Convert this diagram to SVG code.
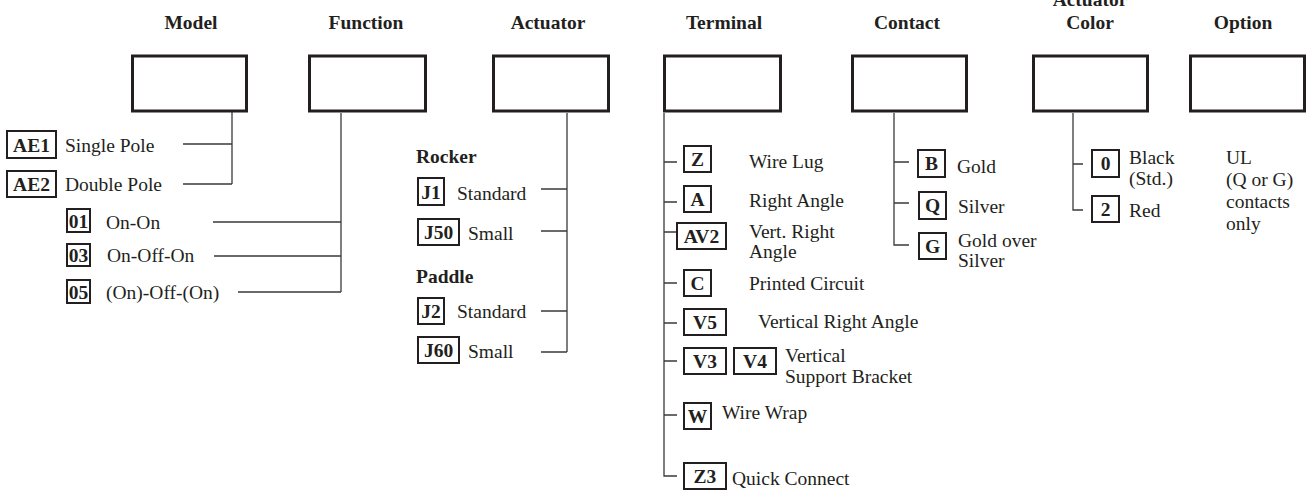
<svg xmlns="http://www.w3.org/2000/svg" width="1307" height="491" viewBox="0 0 1307 491">
<style>
.t{font-family:"Liberation Serif","Times New Roman",serif;font-size:19.5px;fill:#231f20}
.b{font-weight:bold}
.c{text-anchor:middle}
.mb{fill:#fff;stroke:#231f20;stroke-width:3}
.cb{fill:#fff;stroke:#231f20;stroke-width:2}
.ln{stroke:#3a3a3a;stroke-width:1.3;fill:none}
</style>
<rect width="1307" height="491" fill="#fff"/>
<g id="connectors" class="ln">
<path d="M232 112V184M183 144H232M183 184H232"/>
<path d="M341 113V292M213 222H341M214 256H341M238 292H341"/>
<path d="M567 113V352M541 189H567M541 231H567M541 311H567M541 352H567"/>
<path d="M664 113V476H677M664 162H677M664 202H677M664 232H677M664 283H677M664 323H677M664 361H677M664 415H677"/>
<path d="M894 113V245H909M894 162H909M894 203H909"/>
<path d="M1073 113V210H1083M1073 164H1083"/>
</g>
<g id="model">
<text class="t b c" x="191" y="29">Model</text>
<rect class="mb" x="132.5" y="56" width="114" height="55"/>
<rect class="cb" x="7" y="131" width="49" height="27"/>
<text class="t b c" x="31.5" y="152">AE1</text>
<text class="t" x="65" y="152">Single Pole</text>
<rect class="cb" x="7" y="171" width="49" height="26"/>
<text class="t b c" x="31.5" y="191">AE2</text>
<text class="t" x="65" y="191">Double Pole</text>
</g>
<g id="function">
<text class="t b c" x="366" y="29">Function</text>
<rect class="mb" x="309.5" y="56" width="116" height="55"/>
<rect class="cb" x="67" y="209" width="23" height="23"/>
<text class="t b c" x="78.5" y="228">01</text>
<text class="t" x="106" y="229">On-On</text>
<rect class="cb" x="67" y="244" width="23" height="22"/>
<text class="t b c" x="78.5" y="262">03</text>
<text class="t" x="107" y="262">On-Off-On</text>
<rect class="cb" x="67" y="280" width="23" height="23"/>
<text class="t b c" x="78.5" y="299">05</text>
<text class="t" x="106" y="299">(On)-Off-(On)</text>
</g>
<g id="actuator">
<text class="t b c" x="548" y="29">Actuator</text>
<rect class="mb" x="493.5" y="56" width="115" height="55"/>
<text class="t b" x="416" y="163">Rocker</text>
<rect class="cb" x="418" y="178" width="26" height="27"/>
<text class="t b c" x="431" y="199">J1</text>
<text class="t" x="457" y="200">Standard</text>
<rect class="cb" x="418" y="219" width="41" height="26"/>
<text class="t b c" x="438.5" y="239">J50</text>
<text class="t" x="468" y="240">Small</text>
<text class="t b" x="416" y="283">Paddle</text>
<rect class="cb" x="418" y="298" width="26" height="26"/>
<text class="t b c" x="431" y="318">J2</text>
<text class="t" x="457" y="318">Standard</text>
<rect class="cb" x="418" y="337" width="41" height="26"/>
<text class="t b c" x="438.5" y="357">J60</text>
<text class="t" x="468" y="358">Small</text>
</g>
<g id="terminal">
<text class="t b c" x="724" y="29">Terminal</text>
<rect class="mb" x="664.5" y="56" width="116" height="55"/>
<rect class="cb" x="684" y="146" width="27" height="26"/>
<text class="t b c" x="697.5" y="166">Z</text>
<text class="t" x="749" y="168">Wire Lug</text>
<rect class="cb" x="684" y="186" width="27" height="26"/>
<text class="t b c" x="697.5" y="206">A</text>
<text class="t" x="749" y="207">Right Angle</text>
<rect class="cb" x="677" y="223" width="49" height="26"/>
<text class="t b c" x="701.5" y="243">AV2</text>
<text class="t" x="749" y="238">Vert. Right</text>
<text class="t" x="749" y="258">Angle</text>
<rect class="cb" x="684" y="270" width="27" height="26"/>
<text class="t b c" x="697.5" y="290">C</text>
<text class="t" x="749" y="290">Printed Circuit</text>
<rect class="cb" x="684" y="309" width="42" height="26"/>
<text class="t b c" x="705" y="329">V5</text>
<text class="t" x="758" y="328">Vertical Right Angle</text>
<rect class="cb" x="684" y="348" width="42" height="26"/>
<text class="t b c" x="705" y="368">V3</text>
<rect class="cb" x="734" y="348" width="42" height="26"/>
<text class="t b c" x="755" y="368">V4</text>
<text class="t" x="785" y="362">Vertical</text>
<text class="t" x="785" y="383">Support Bracket</text>
<rect class="cb" x="684" y="403" width="27" height="26"/>
<text class="t b c" x="697.5" y="423">W</text>
<text class="t" x="722" y="419">Wire Wrap</text>
<rect class="cb" x="684" y="463" width="42" height="26"/>
<text class="t b c" x="705" y="483">Z3</text>
<text class="t" x="732" y="485">Quick Connect</text>
</g>
<g id="contact">
<text class="t b c" x="907" y="29">Contact</text>
<rect class="mb" x="852.5" y="56" width="114" height="55"/>
<rect class="cb" x="918" y="150" width="27" height="27"/>
<text class="t b c" x="931.5" y="170">B</text>
<text class="t" x="957" y="173">Gold</text>
<rect class="cb" x="919" y="192" width="27" height="27"/>
<text class="t b c" x="932.5" y="212">Q</text>
<text class="t" x="958" y="213">Silver</text>
<rect class="cb" x="919" y="233" width="27" height="26"/>
<text class="t b c" x="932.5" y="253">G</text>
<text class="t" x="958" y="247">Gold over</text>
<text class="t" x="958" y="267">Silver</text>
</g>
<g id="actuator-color">
<text class="t b c" x="1090" y="6">Actuator</text>
<text class="t b c" x="1090" y="29">Color</text>
<rect class="mb" x="1033.5" y="56" width="114" height="55"/>
<rect class="cb" x="1092" y="150" width="27" height="27"/>
<text class="t b c" x="1105.5" y="170">0</text>
<text class="t" x="1129" y="164">Black</text>
<text class="t" x="1129" y="185">(Std.)</text>
<rect class="cb" x="1092" y="196" width="27" height="26"/>
<text class="t b c" x="1105.5" y="216">2</text>
<text class="t" x="1129" y="217">Red</text>
</g>
<g id="option">
<text class="t b c" x="1243" y="29">Option</text>
<rect class="mb" x="1190.5" y="56" width="114" height="55"/>
<text class="t" x="1226" y="164">UL</text>
<text class="t" x="1226" y="186">(Q or G)</text>
<text class="t" x="1226" y="208">contacts</text>
<text class="t" x="1226" y="230">only</text>
</g>
</svg>
